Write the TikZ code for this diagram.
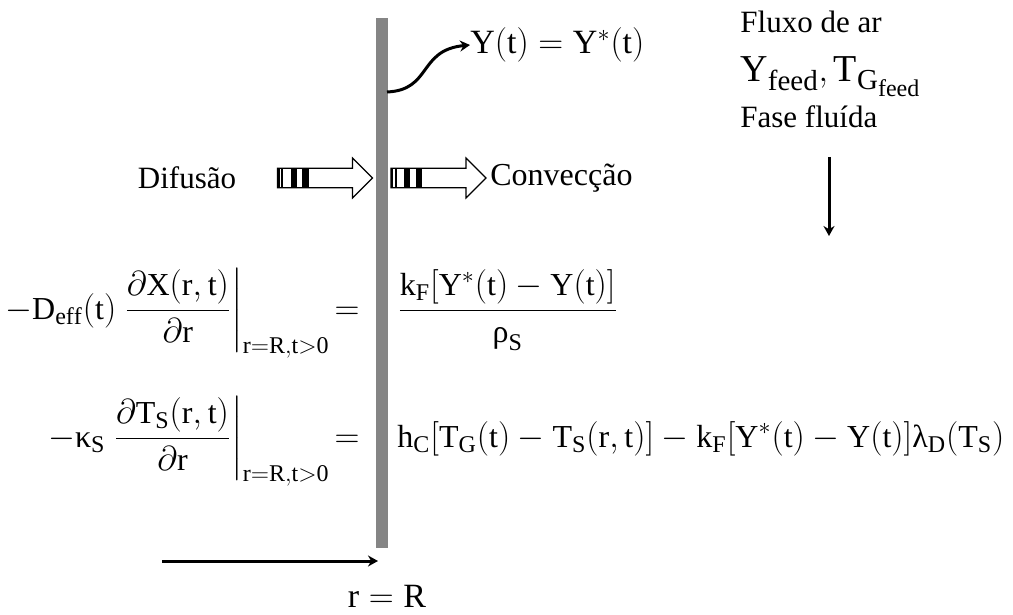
\documentclass[tikz,border=0pt]{standalone}
\usepackage{amsmath}
\usepackage{fontspec}
\setmainfont{Liberation Serif}
\DeclareMathSizes{16}{16}{12}{10}
\DeclareMathSizes{17}{17}{12.5}{10}
\DeclareMathSizes{19}{19}{14.5}{12}
\usetikzlibrary{arrows.meta, positioning}
\definecolor{cwall}{HTML}{858585}

\tikzset{
  stripearrow/.pic={
    \draw[fill=white, line width=0.6pt] (0,-9.7) -- (75,-9.7) -- (75,-20) -- (95,0)
          -- (75,20) -- (75,9.7) -- (0,9.7) -- cycle;
    \foreach \a/\b in {0/2, 3.5/5.5, 13/19, 24.5/31}
      \fill[black] (\a,-9.7) rectangle (\b,9.7);
  }
}

\begin{document}
\begin{tikzpicture}[x=0.5pt, y=-0.5pt,
  txt/.style={font=\fontsize{15.5}{18}\selectfont, inner sep=0pt},
  eq/.style={font=\fontsize{16}{19}\selectfont, inner sep=0pt},
  eqbig/.style={font=\fontsize{17}{20}\selectfont, inner sep=0pt},
  wall/.style={fill=cwall, minimum width=6pt, minimum height=265pt, inner sep=0pt},
  arr/.style={-{Stealth[length=5pt, width=5.5pt]}, line width=1.5pt}
]
\useasboundingbox (0,0) rectangle (1013,615);

% parede da particula
\node[wall] (wall) at (382,283) {};

% fluxo de ar
\node[txt, anchor=base west] (fluxo) at (740,33)  {Fluxo de ar};
\node[font=\fontsize{19}{22}\selectfont, inner sep=0pt, anchor=base west] (feed) at (740,82)
  {$\mathrm{Y_{feed}, T_{G_{feed}}}$};
\node[txt, anchor=base west] (fase)  at (740,128) {Fase fluída};
\coordinate (ftop) at (829,157);
\coordinate (fbot) at (829,236);
\draw[arr] (ftop) -- (fbot);

% equilibrio na superficie
\node[eqbig, anchor=west] (yeq) at (470,45) {$\mathrm{Y(t) = Y^{*}(t)}$};
\coordinate (ystart) at (387,92);
\draw[arr] (ystart) .. controls (432,90) and (418,50) .. (yeq.west);

% difusao / conveccao
\node[txt] (dif) at (187,178) {Difusão};
\pic (pdif) at (277.5,178) {stripearrow};
\pic (pconv) at (391,178) {stripearrow};
\node[txt, font=\fontsize{16}{19}\selectfont, anchor=west] (conv) at (490,178) {Convecção};

% balanco de massa
\node[eq, anchor=base east] (lhsm) at (330,319)
  {$-\mathrm{D_{eff}(t)}\left.\dfrac{\partial\mathrm{X(r,t)}}{\partial\mathrm{r}}\right|_{\mathrm{r=R,t>0}}$};
\node[eq, anchor=base] (eqm) at (347,319) {$=$};
\node[eq, anchor=base west] (rhsm) at (397,319)
  {$\dfrac{\mathrm{k_F[Y^{*}(t) - Y(t)]}}{\text{ρ}_{\mathrm{S}}}$};

% balanco de energia
\node[eq, anchor=base east] (lhse) at (330,447)
  {$-\text{κ}_{\mathrm{S}}\left.\dfrac{\partial\mathrm{T_S(r,t)}}{\partial\mathrm{r}}\right|_{\mathrm{r=R,t>0}}$};
\node[eq, anchor=base] (eqe) at (347,447) {$=$};
\node[eq, anchor=base west] (rhse) at (397,447)
  {$\mathrm{h_C[T_G(t) - T_S(r,t)] - k_F[Y^{*}(t) - Y(t)]}\text{λ}_{\mathrm{D}}\mathrm{(T_S)}$};

% coordenada radial
\coordinate (rstart) at (162,561);
\coordinate (rend) at (378,561);
\draw[arr] (rstart) -- (rend);
\node[eqbig, anchor=base] (rlbl) at (387,607) {$\mathrm{r = R}$};
\end{tikzpicture}
\end{document}
